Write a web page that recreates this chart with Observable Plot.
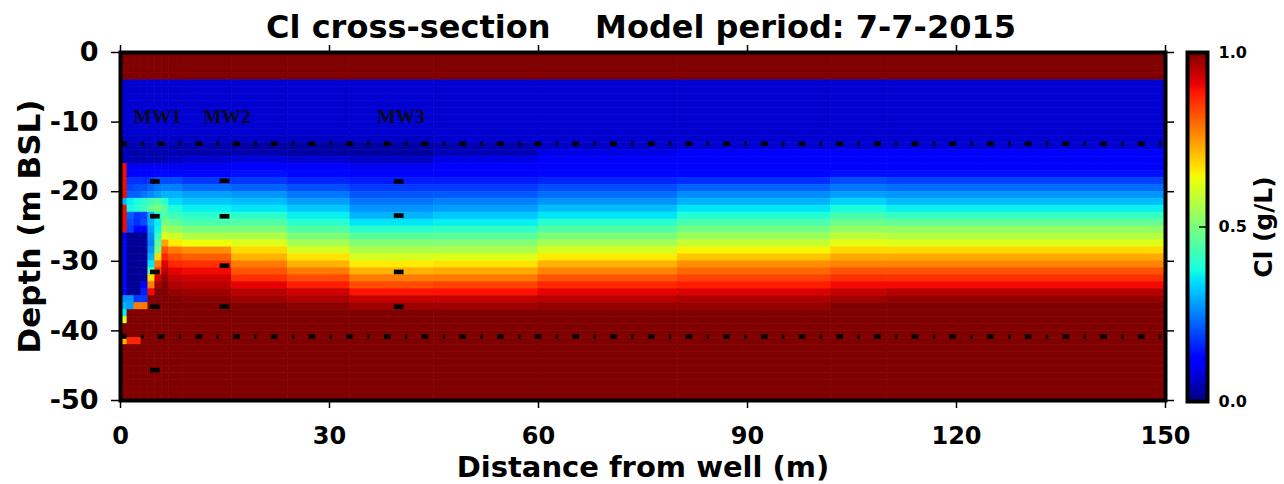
<!DOCTYPE html>
<html><head><meta charset="utf-8">
<script src="https://cdn.jsdelivr.net/npm/d3@7"></script>
<script src="https://cdn.jsdelivr.net/npm/@observablehq/plot@0.6"></script>
<style>
html,body{margin:0;padding:0;background:#fff;}
#wrap{position:relative;width:1284px;height:484px;overflow:hidden;background:#fff;}
#wrap > svg{position:absolute;top:0;}
</style></head><body><div id="wrap"></div>
<script>
// ---------------- data ----------------
const titleText = "Cl cross-section\u00a0\u00a0\u00a0\u00a0Model period: 7-7-2015";
const xLabel = "Distance from well (m)";
const yLabel = "Depth (m BSL)";
const cbLabel = "Cl (g/L)";
const xTicks = [0, 30, 60, 90, 120, 150];
const yTicks = [0, -10, -20, -30, -40, -50];
const cbTicks = [0, 0.5, 1];

// column edges (m from well); each column has one concentration profile, 1 m layers from 0 to 50 m depth
const colEdges = [0, 1, 2, 3, 4, 5, 6, 7, 9, 16, 24, 33, 45, 60, 80, 102, 110, 150];

const col00 = [1,1,1,1,.07,.07,.07,.07,.07,.07,.07,.07,.06, .05,.05,.05, .9,.9,.9,.9,.9, .3, .9,.9,.9,.9, .13,.13,.13,.13,.13,.13,.13,.13,.13, .26,.3,.36, .62, 1,1, .72, 1,1,1,1,1,1,1,1];
const col01 = [1,1,1,1,.07,.07,.07,.07,.07,.07,.07,.07,.06, .04,.04,.05, .1,.12,.17,.19,.22, .36,.37, .22,.2,.19, .02,.02,.02,.02,.02,.02,.02,.02,.02, .27,.28, 1,1,1,1, .87, 1,1,1,1,1,1,1,1];
const col02 = [1,1,1,1,.07,.07,.07,.07,.07,.07,.07,.07,.06, .04,.04,.04, .1,.12,.17,.2,.22, .38,.4, .18,.17,.12, .02,.02,.02,.02,.02,.02,.02,.02,.02, .18,.78, 1,1,1,1, .87, 1,1,1,1,1,1,1,1];
const col03 = [1,1,1,1,.07,.07,.07,.07,.07,.07,.07,.07,.06, .04,.04,.04, .1,.12,.17,.2,.24, .4,.42, .19,.2,.12, .02,.02,.02,.02,.02,.02,.02, .1,.15,.18, .78, 1,1,1,1,1,1,1,1,1,1,1,1,1];
const col04 = [1,1,1,1,.07,.07,.07,.07,.07,.07,.07,.07,.06, .04,.04,.04, .1,.12,.18,.22,.26, .43,.47, .3,.3,.28,.26,.25,.27,.3,.35,.45, .68,.78,.9, 1,1,1,1,1,1,1,1,1,1,1,1,1,1,1];
const col05 = [1,1,1,1,.07,.07,.07,.07,.07,.07,.07,.07,.06, .04,.04,.04, .1,.13,.2,.24,.28, .45,.5, .38,.36,.37,.42,.46,.5, .68,.78,.85,.93,.97, 1,1,1,1,1,1,1,1,1,1,1,1,1,1,1,1];
const col06 = [1,1,1,1,.07,.07,.07,.07,.07,.07,.07,.07,.06, .04,.04,.04, .1,.13,.2,.25,.3, .4,.45,.45,.5,.55,.62, .74,.82,.87,.92,.95,.98, 1,1,1,1,1,1,1,1,1,1,1,1,1,1,1,1,1];
const col07 = [1,1,1,1,.07,.07,.07,.07,.07,.07,.07,.07,.06, .04,.04,.06, .1,.13,.2,.25,.3, .34,.38,.42,.47,.53,.6,.66, .78,.83,.87,.91,.94,.96,.98, 1,1,1,1,1,1,1,1,1,1,1,1,1,1,1];
const col09 = [1,1,1,1,.07,.07,.07,.07,.07,.07,.07,.07,.06, .04,.04,.07, .1,.13,.18,.23,.28, .32,.36,.4,.44,.5,.56,.64, .76,.81,.86,.9,.93,.95,.97,.99, 1,1,1,1,1,1,1,1,1,1,1,1,1,1];
const col16 = [1,1,1,1,.07,.07,.07,.07,.07,.07,.07,.07,.06, .03,.04,.08, .12,.14,.18,.22,.27, .31,.35,.4,.45,.5,.56,.62, .68,.72,.78,.82,.86,.91,.95,.97, 1,1,1,1,1,1,1,1,1,1,1,1,1,1];
const col24 = [1,1,1,1,.07,.07,.07,.07,.07,.07,.07,.07,.06, .03,.03,.07, .11,.13,.16,.2,.24, .28,.32,.36,.4,.45,.5,.55, .61,.67,.72,.78,.83,.88,.93,.96,.99, 1,1,1,1,1,1,1,1,1,1,1,1,1];
const col33 = [1,1,1,1,.07,.07,.07,.07,.07,.07,.07,.07,.06, .03,.03,.06, .1,.12,.15,.18,.21, .24,.27,.3,.35,.4,.46,.51, .56,.61,.66,.72,.78,.83,.89,.94,.97, 1,1,1,1,1,1,1,1,1,1,1,1,1];
const col45 = [1,1,1,1,.07,.07,.07,.07,.07,.07,.07,.07,.07, .04,.05,.09, .11,.12,.15,.18,.21, .25,.28,.32,.36,.41,.46,.51, .56,.62,.67,.73,.78,.84,.89,.94,.97, 1,1,1,1,1,1,1,1,1,1,1,1,1];
const col60 = [1,1,1,1,.07,.07,.07,.07,.07,.07,.07,.07,.07, .06,.09,.11, .12,.13,.16,.2,.23, .27,.31,.35,.4,.45,.5,.55, .61,.66,.72,.77,.82,.87,.91,.95,.98, 1,1,1,1,1,1,1,1,1,1,1,1,1];
const col80 = [1,1,1,1,.07,.07,.07,.07,.07,.07,.07,.07,.07, .07,.11,.12, .12,.13,.17,.22,.26, .3,.35,.39,.44,.49,.54,.59, .65,.7,.76,.8,.84,.88,.92,.96,.98, 1,1,1,1,1,1,1,1,1,1,1,1,1];
const col102 = [1,1,1,1,.07,.07,.07,.07,.07,.07,.07,.07,.07, .07,.12,.12, .12,.14,.2,.24,.28, .33,.38,.43,.48,.53,.58,.63, .68,.73,.77,.82,.86,.9,.94,.97, 1,1,1,1,1,1,1,1,1,1,1,1,1,1];
const col110 = [1,1,1,1,.07,.07,.07,.07,.07,.07,.07,.07,.07, .07,.12,.12, .12,.14,.19,.23,.27, .31,.36,.41,.47,.53,.57,.62, .68,.73,.77,.82,.86,.9,.95,.98, 1,1,1,1,1,1,1,1,1,1,1,1,1,1];

const wellNames = ["MW1", "MW2", "MW3"];
const wellX = [5, 15, 40];
const mw1Screens = [18.6, 23.6, 31.6, 36.6, 45.7];
const mw2Screens = [18.5, 23.6, 30.7, 36.6];
const mw3Screens = [18.6, 23.5, 31.6, 36.6];
const labelDepth = 9.2;
const layerDepths = [13.1, 40.8];

// ---------------- tables ----------------
const profiles = [col00,col01,col02,col03,col04,col05,col06,col07,col09,col16,col24,col33,col45,col60,col80,col102,col110];
const cells = [];
profiles.forEach((p, j) => p.forEach((v, i) => cells.push({x1: colEdges[j], x2: colEdges[j + 1], y1: -i, y2: -(i + 1), v})));
const screens = [];
[mw1Screens, mw2Screens, mw3Screens].forEach((arr, k) => arr.forEach(d => screens.push({x: wellX[k], depth: d})));
const wells = wellNames.map((name, k) => ({name, x: wellX[k], y: -labelDepth}));

// matplotlib "jet" colormap
function jet(t) {
  t = Math.max(0, Math.min(1, t));
  const seg = pts => {
    for (let i = 1; i < pts.length; i++) {
      if (t <= pts[i][0]) {
        const [a0, b0] = pts[i - 1], [a1, b1] = pts[i];
        return b0 + (b1 - b0) * (t - a0) / (a1 - a0);
      }
    }
    return pts[pts.length - 1][1];
  };
  const r = seg([[0,0],[0.35,0],[0.66,1],[0.89,1],[1,0.5]]);
  const g = seg([[0,0],[0.125,0],[0.375,1],[0.64,1],[0.91,0],[1,0]]);
  const b = seg([[0,0.5],[0.11,1],[0.34,1],[0.65,0],[1,0]]);
  return `rgb(${Math.round(r*255)},${Math.round(g*255)},${Math.round(b*255)})`;
}

const font = "DejaVu Sans";
const main = Plot.plot({
  width: 1284, height: 484,
  marginLeft: 120, marginRight: 119, marginTop: 52, marginBottom: 84,
  x: {domain: [0, 150]},
  y: {domain: [-50, 0]},
  color: {type: "linear", domain: [0, 1], interpolate: jet},
  style: {fontFamily: font, fontWeight: "bold", color: "black", background: "white", overflow: "visible"},
  marks: [
    Plot.rect(cells, {x1: "x1", x2: "x2", y1: "y1", y2: "y2", fill: "v", stroke: "v", strokeWidth: 0.6}),
    Plot.ruleY(layerDepths, {y: d => -d, stroke: "black", strokeWidth: 4.5, strokeDasharray: "6.7,14.4,2.3,14.3"}),
    Plot.rect(screens, {x1: d => d.x - 0.7, x2: d => d.x + 0.7, y1: d => -d.depth + 0.33, y2: d => -d.depth - 0.33, fill: "black"}),
    Plot.text(wells, {x: "x", y: "y", text: "name", dx: 2, fontFamily: "Liberation Serif", fontSize: 19.5, fontWeight: "bold", fill: "#0a0a1a"}),
    Plot.frame({stroke: "black", strokeWidth: 4}),
    Plot.axisX({anchor: "bottom", ticks: xTicks, tickSize: 8, tickPadding: 18, strokeWidth: 1.5, fontSize: 24, tickFormat: d => String(d), label: null}),
    Plot.axisX({anchor: "top", ticks: xTicks, tickSize: 8, strokeWidth: 1.5, tickFormat: () => "", label: null}),
    Plot.axisY({anchor: "left", ticks: yTicks, tickSize: 9, tickPadding: 13, strokeWidth: 1.5, fontSize: 27, tickFormat: d => String(d), label: null}),
    Plot.axisY({anchor: "right", ticks: yTicks, tickSize: 8, strokeWidth: 1.5, tickFormat: () => "", label: null}),
    Plot.text([titleText], {text: d => d, frameAnchor: "top", lineAnchor: "middle", textAnchor: "middle", dy: -25, dx: -2, fontSize: 32, fontWeight: "bold"}),
    Plot.text([xLabel], {text: d => d, frameAnchor: "bottom", lineAnchor: "middle", textAnchor: "middle", dy: 67, fontSize: 29, fontWeight: "bold"}),
    Plot.text([yLabel], {text: d => d, frameAnchor: "left", lineAnchor: "middle", textAnchor: "middle", dx: -90, rotate: -90, fontSize: 31, fontWeight: "bold"})
  ]
});
main.style.left = "0px";

const cb = Plot.plot({
  width: 124, height: 484,
  marginLeft: 27, marginRight: 77, marginTop: 52, marginBottom: 83,
  x: {domain: [0, 1], axis: null},
  y: {domain: [0, 1]},
  color: {type: "linear", domain: [0, 1], interpolate: jet},
  style: {fontFamily: font, fontWeight: "bold", color: "black", background: "transparent", overflow: "visible"},
  marks: [
    Plot.raster({x1: 0, x2: 1, y1: 0, y2: 1, width: 1, height: 256, fill: (x, y) => y, imageRendering: "auto"}),
    Plot.ruleY(cbTicks.filter(t => t > 0 && t < 1), {x1: 0.6, x2: 1, stroke: "black", strokeWidth: 1.5}),
    Plot.frame({stroke: "black", strokeWidth: 4}),
    Plot.axisY({anchor: "right", ticks: cbTicks, tickSize: 0, tickPadding: 11, fontSize: 16, tickFormat: d => d.toFixed(1), label: null}),
    Plot.text([cbLabel], {text: d => d, frameAnchor: "right", lineAnchor: "middle", textAnchor: "middle", dx: 56, rotate: -90, fontSize: 25, fontWeight: "bold"})
  ]
});
cb.style.left = "1160px";

const wrap = document.getElementById("wrap");
wrap.appendChild(main);
wrap.appendChild(cb);
</script></body></html>
